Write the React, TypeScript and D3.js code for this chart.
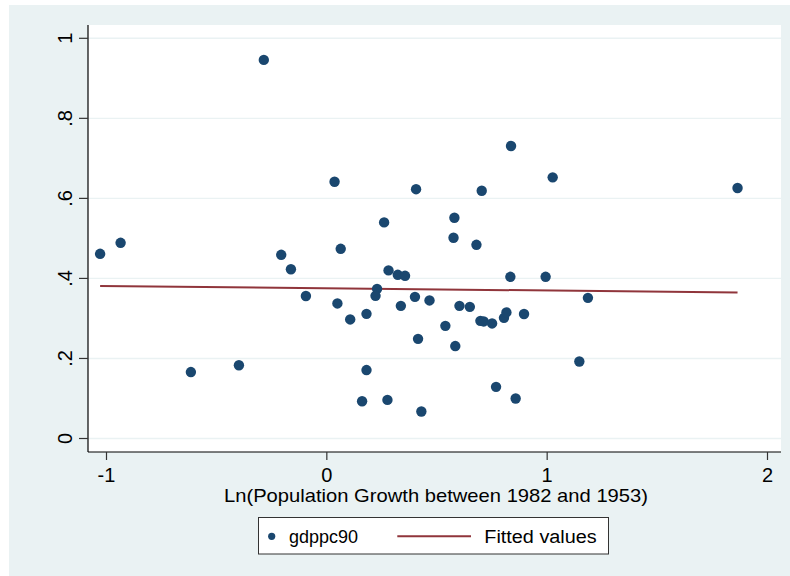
import React from "react";
import * as d3 from "d3";

// Ln(population growth 1953–1982) against GDP per capita 1990
const growth: number[] = [
  -1.029, -0.936, -0.617, -0.399, -0.286, -0.207, -0.163, -0.095, 0.035, 0.063,
  0.048, 0.106, 0.18, 0.18, 0.16, 0.275, 0.429, 0.26, 0.28, 0.322,
  0.355, 0.228, 0.221, 0.336, 0.4, 0.466, 0.414, 0.538, 0.583, 0.405,
  0.579, 0.575, 0.836, 1.025, 1.864, 0.703, 0.679, 0.833, 0.993, 0.602,
  0.649, 0.697, 0.712, 0.75, 0.804, 0.815, 0.895, 1.185, 1.146, 0.768,
  0.857,
];
const gdppc90: number[] = [
  0.4615, 0.489, 0.166, 0.183, 0.946, 0.459, 0.423, 0.356, 0.6415, 0.474,
  0.3375, 0.2975, 0.3115, 0.171, 0.093, 0.0965, 0.0675, 0.54, 0.42, 0.409,
  0.4065, 0.374, 0.3565, 0.3315, 0.354, 0.345, 0.249, 0.2815, 0.231, 0.623,
  0.5515, 0.5015, 0.731, 0.6525, 0.626, 0.619, 0.484, 0.404, 0.404, 0.3315,
  0.329, 0.294, 0.2925, 0.2875, 0.3015, 0.315, 0.311, 0.3515, 0.1925, 0.129,
  0.1,
];

// Linear fit of gdppc90 on growth
const fitIntercept = 0.3753;
const fitSlope = -0.0055;

const xTicks: number[] = [-1, 0, 1, 2];
const xTickLabels: string[] = ["-1", "0", "1", "2"];
const yTicks: number[] = [0, 0.2, 0.4, 0.6, 0.8, 1];
const yTickLabels: string[] = ["0", ".2", ".4", ".6", ".8", "1"];

const xTitle = "Ln(Population Growth between 1982 and 1953)";
const legendLabels: string[] = ["gdppc90", "Fitted values"];

const W = 790;
const H = 576;
const FONT = "'Liberation Sans', Arial, Helvetica, sans-serif";
const NAVY = "#1a476f";
const MAROON = "#90353b";
const BG = "#eaf2f3";

export default function App() {
  const plot = { left: 88, right: 781, top: 25, bottom: 452 };
  const x = d3.scaleLinear().domain([-1, 2]).range([106.5, 767.5]);
  const y = d3.scaleLinear().domain([0, 1]).range([438.5, 38.3]);

  const pts = growth.map((g, i) => ({ g, v: gdppc90[i] }));
  const [xMin, xMax] = d3.extent(growth) as [number, number];
  const fitLine = d3
    .line<number>()
    .x((d) => x(d))
    .y((d) => y(fitIntercept + fitSlope * d));

  return (
    <div style={{ position: "absolute", left: 0, top: 0 }}>
      <svg width={W} height={H} style={{ display: "block", fontFamily: FONT }}>
        <rect x={0} y={0} width={W} height={H} fill="#ffffff" />
        <rect x={9} y={5} width={W - 9} height={H - 5} fill={BG} />
        <rect
          x={plot.left}
          y={plot.top}
          width={plot.right - plot.left}
          height={plot.bottom - plot.top}
          fill="#ffffff"
        />

        {/* horizontal gridlines */}
        {yTicks.map((t) => (
          <line
            key={"g" + t}
            x1={plot.left}
            x2={plot.right}
            y1={y(t)}
            y2={y(t)}
            stroke={BG}
            strokeWidth={1.4}
          />
        ))}

        {/* axes */}
        <line x1={plot.left} x2={plot.left} y1={plot.top} y2={plot.bottom} stroke="#000" strokeWidth={1.2} />
        <line x1={plot.left} x2={plot.right} y1={plot.bottom} y2={plot.bottom} stroke="#000" strokeWidth={1.2} />

        {yTicks.map((t, i) => (
          <g key={"y" + t}>
            <line x1={79} x2={plot.left} y1={y(t)} y2={y(t)} stroke="#333" strokeWidth={1.2} />
            <text
              transform={`translate(71.7,${y(t)}) rotate(-90)`}
              textAnchor="middle"
              fontSize={20}
              fill="#000"
            >
              {yTickLabels[i]}
            </text>
          </g>
        ))}

        {xTicks.map((t, i) => (
          <g key={"x" + t}>
            <line x1={x(t)} x2={x(t)} y1={plot.bottom} y2={plot.bottom + 8} stroke="#333" strokeWidth={1.2} />
            <text x={x(t)} y={482.3} textAnchor="middle" fontSize={20} fill="#000">
              {xTickLabels[i]}
            </text>
          </g>
        ))}

        <text
          x={(224 + 648) / 2}
          y={502}
          textAnchor="middle"
          fontSize={19}
          fill="#000"
          textLength={424}
          lengthAdjust="spacingAndGlyphs"
        >
          {xTitle}
        </text>

        {/* fitted line */}
        <path d={fitLine([xMin, xMax]) ?? ""} fill="none" stroke={MAROON} strokeWidth={2} />

        {/* scatter */}
        {pts.map((p, i) => (
          <circle key={i} cx={x(p.g)} cy={y(p.v)} r={5.2} fill={NAVY} />
        ))}

        {/* legend */}
        <rect x={258.5} y={517.5} width={350} height={36.5} fill="#ffffff" stroke="#333" strokeWidth={1} />
        <circle cx={271.7} cy={536.3} r={3.6} fill={NAVY} />
        <text x={289} y={542.7} fontSize={18} fill="#000">
          {legendLabels[0]}
        </text>
        <line x1={397.3} x2={471} y1={536.3} y2={536.3} stroke={MAROON} strokeWidth={2} />
        <text x={484.3} y={542.7} fontSize={18} fill="#000" textLength={112.4} lengthAdjust="spacingAndGlyphs">
          {legendLabels[1]}
        </text>
      </svg>
    </div>
  );
}
